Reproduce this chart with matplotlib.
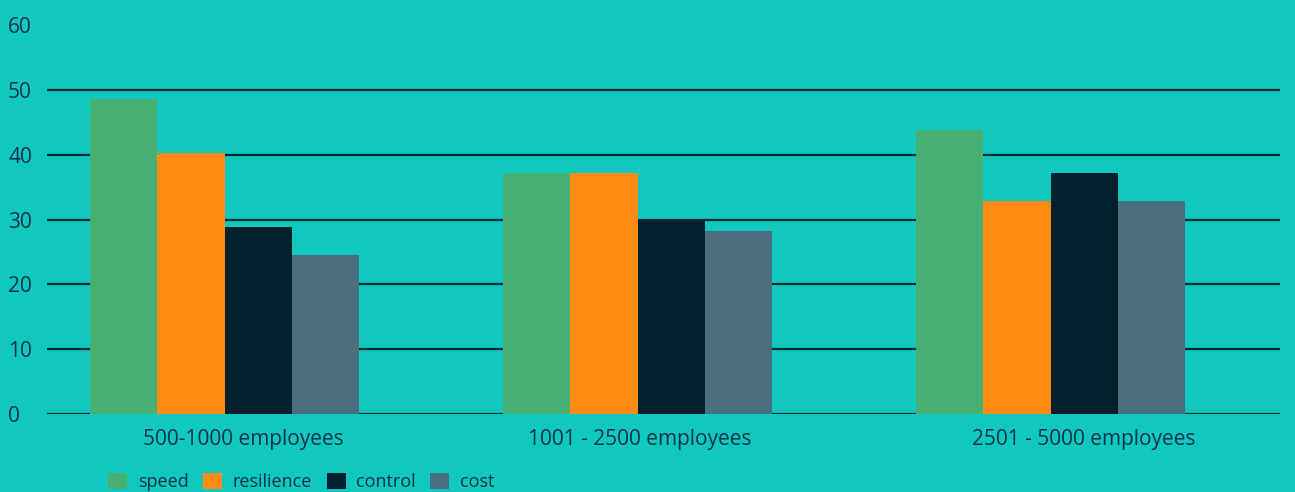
import numpy as np
import matplotlib.pyplot as plt
import matplotlib.transforms as mtransforms

# Survey data: share of answers per company size
categories = ["500-1000 employees", "1001 - 2500 employees", "2501 - 5000 employees"]
series_names = ["speed", "resilience", "control", "cost"]
speed = [48.6, 37.1, 43.8]
resilience = [40.2, 37.1, 32.9]
control = [28.8, 30.0, 37.1]
cost = [24.6, 28.3, 32.9]
yticks = [0, 10, 20, 30, 40, 50, 60]

colors = ["#46AF72", "#FF8C12", "#00202E", "#4B6E7E"]
bg = "#10C8C0"
text_col = "#0B3542"

plt.rcParams['font.family'] = ['Open Sans', 'DejaVu Sans']

fig = plt.figure(figsize=(12.95, 4.92), dpi=100, facecolor=bg)
ax = fig.add_axes([47 / 1295, 78 / 492, 1233 / 1295, 389 / 492], facecolor=bg)

x = np.arange(len(categories))
width = 0.163
values = [speed, resilience, control, cost]
for i, (name, vals) in enumerate(zip(series_names, values)):
    ax.bar(x + (i - 1.5) * width, vals, width, color=colors[i], label=name, zorder=3)

# horizontal grid lines (no line at the top tick)
for t in yticks[:-1]:
    ax.axhline(t, color="#0A2A36", linewidth=1.6, zorder=2)

ax.set_ylim(0, 60)
ax.set_xlim(-0.43, 2.555)
ax.set_yticks(yticks)
ax.set_xticks(x)
ax.set_xticklabels(categories)
for s in ax.spines.values():
    s.set_visible(False)
ax.tick_params(axis='both', length=0, labelcolor=text_col, labelsize=15)
ax.tick_params(axis='x', pad=11)
ax.tick_params(axis='y', pad=28)
for lab in ax.get_yticklabels():
    lab.set_horizontalalignment('left')

# the original labels sit a bit right of the bar groups
label_shift = [19, 2, 33]
for lab, dx in zip(ax.get_xticklabels(), label_shift):
    lab.set_transform(lab.get_transform() + mtransforms.ScaledTranslation(dx / 100, 0, fig.dpi_scale_trans))

fig.legend(loc='center left', bbox_to_anchor=(108 / 1295, 10 / 492), ncol=4, frameon=False,
           fontsize=13, labelcolor=text_col, handlelength=1.05, handleheight=1.05,
           handletextpad=0.6, columnspacing=0.8, borderpad=0, borderaxespad=0)

fig.savefig("out.png", dpi=100, facecolor=bg)
